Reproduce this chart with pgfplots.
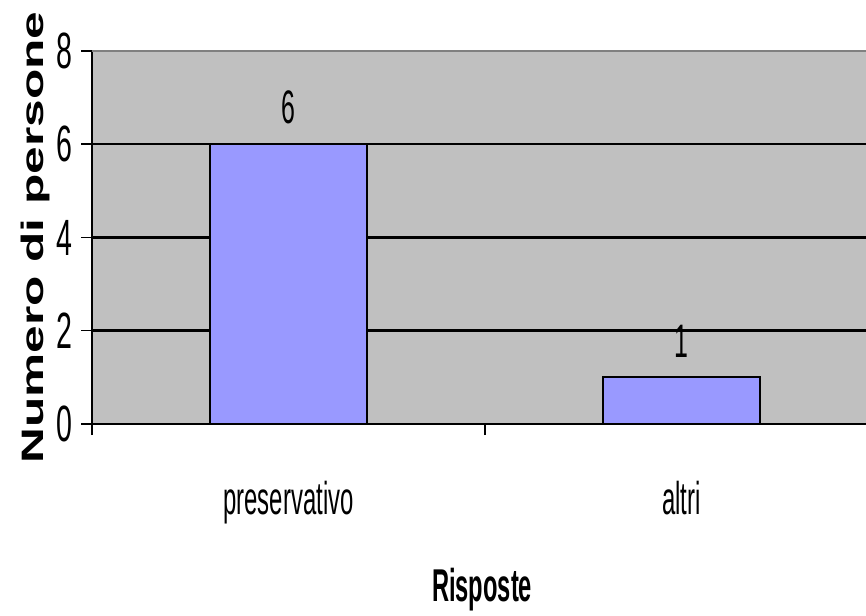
\documentclass[border=0pt]{standalone}
\usepackage{pgfplots}
\pgfplotsset{compat=1.18}
\usepackage{fontspec}
\setmainfont{Liberation Sans}
\definecolor{plotbg}{HTML}{C0C0C0}
\definecolor{barcol}{HTML}{9999FF}
\definecolor{topline}{HTML}{808080}
\newcommand{\sxnum}[1]{\scalebox{0.56}[1]{#1}}
\newcommand{\sxlab}[1]{\scalebox{0.52}[1]{#1}}
\begin{document}
\begin{tikzpicture}
\useasboundingbox (0,0) rectangle (866pt,615pt);
\begin{axis}[
  at={(92pt,191pt)}, anchor=south west,
  scale only axis, width=774pt, height=373pt,
  xmin=0, xmax=1.9695, ymin=0, ymax=8,
  axis background/.style={fill=plotbg},
  axis x line*=bottom, axis y line*=left,
  x axis line style={line width=2.5pt,-},
  y axis line style={line width=1.5pt,-},
  ytick={0,2,4,6,8},
  yticklabels={\sxnum{0},\sxnum{2},\sxnum{4},\sxnum{6},\sxnum{8}},
  yticklabel style={font=\fontsize{51}{51}\selectfont, inner sep=0pt, anchor=east, xshift=-8pt},
  ymajorgrids, major grid style={line width=2.5pt, black},
  xtick={0,1,2},
  xticklabels={\sxlab{preservativo},\sxlab{altri},{}},
  xticklabel style={font=\fontsize{46}{46}\selectfont, inner sep=0pt, anchor=north, xshift=196.5pt, yshift=-46pt},
  tick align=outside, major tick length=11pt,
  tick style={black, line width=1.5pt},
  xlabel={\scalebox{0.515}[1]{\bfseries Risposte}},
  xlabel style={font=\fontsize{46}{46}\selectfont, at={(axis description cs:0.504,-0.445)}, anchor=center, inner sep=0pt},
  ylabel={\scalebox{1.6}[1]{\bfseries Numero di persone}},
  ylabel style={font=\fontsize{31}{31}\selectfont, at={(axis description cs:-0.0736,0.5)}, anchor=center, inner sep=0pt},
]
\addplot[ybar, bar width=157pt, fill=barcol, draw=black, line width=2pt,
  nodes near coords={\fontsize{47}{47}\selectfont\scalebox{0.53}[1]{\pgfmathprintnumber[assume math mode=true]{\pgfplotspointmeta}}},
  every node near coord/.append style={inner sep=0pt, anchor=south, yshift=19pt, black}]
  coordinates {(0.5,6) (1.5,1)};
\draw[topline, line width=3pt] (rel axis cs:0,1) -- (rel axis cs:1,1);
\end{axis}
\end{tikzpicture}
\end{document}
